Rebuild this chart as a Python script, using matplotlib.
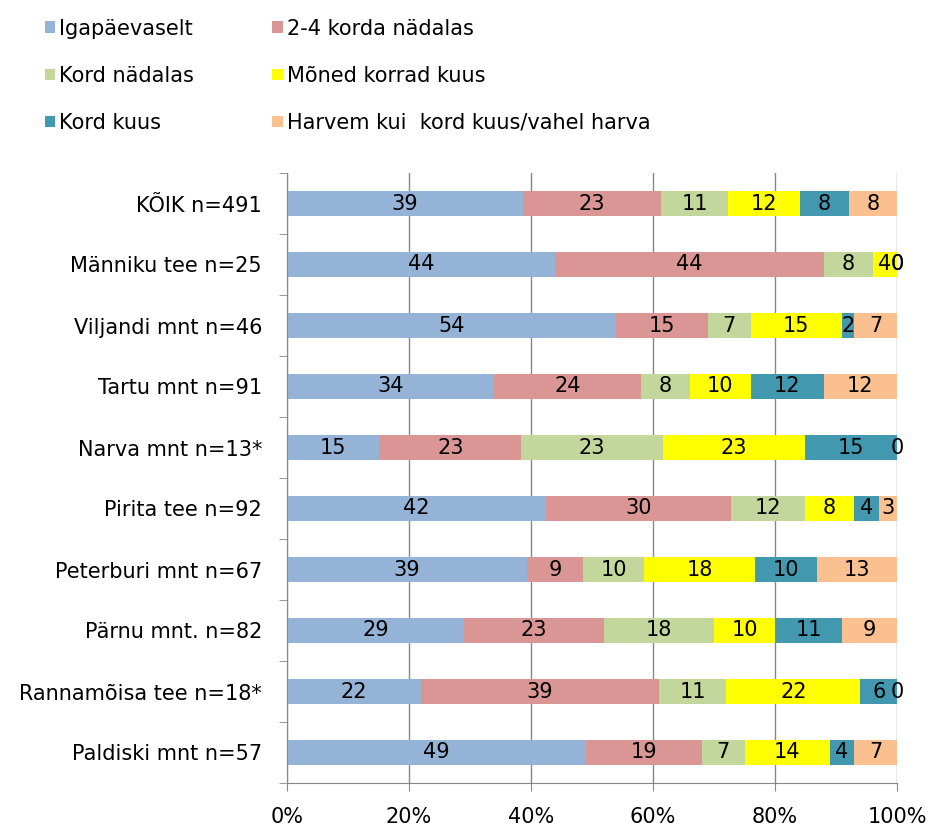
import numpy as np
import matplotlib
matplotlib.use('Agg')
import matplotlib.pyplot as plt
from matplotlib.patches import Patch
from matplotlib.ticker import FixedLocator, PercentFormatter

plt.rcParams['font.family'] = ['DejaVu Sans']

# Data (percent per group)
groups = ["KÕIK n=491", "Männiku tee n=25", "Viljandi mnt n=46", "Tartu mnt n=91",
          "Narva mnt n=13*", "Pirita tee n=92", "Peterburi mnt n=67", "Pärnu mnt. n=82",
          "Rannamõisa tee n=18*", "Paldiski mnt n=57"]
series = ["Igapäevaselt", "2-4 korda nädalas", "Kord nädalas", "Mõned korrad kuus",
          "Kord kuus", "Harvem kui  kord kuus/vahel harva"]
igapaevaselt = [39, 44, 54, 34, 15, 42, 39, 29, 22, 49]
korda_2_4 = [23, 44, 15, 24, 23, 30, 9, 23, 39, 19]
kord_nadalas = [11, 8, 7, 8, 23, 12, 10, 18, 11, 7]
moned_korrad = [12, 4, 15, 10, 23, 8, 18, 10, 22, 14]
kord_kuus = [8, 0, 2, 12, 15, 4, 10, 11, 6, 4]
harvem = [8, 0, 7, 12, 0, 3, 13, 9, 0, 7]
colors = ["#95B3D7", "#D99694", "#C3D69B", "#FFFF00", "#4298AF", "#FAC090"]

values = np.array([igapaevaselt, korda_2_4, kord_nadalas, moned_korrad, kord_kuus, harvem], dtype=float)
shares = values / values.sum(axis=0) * 100  # 100% stacked

fig = plt.figure(figsize=(9.31, 8.27), dpi=100)
ax = fig.add_axes([287 / 931, 1 - 783 / 827, 610 / 931, 610 / 827])

y = np.arange(len(groups))
left = np.zeros(len(groups))
for i in range(len(series)):
    ax.barh(y, shares[i], left=left, height=0.4, color=colors[i], zorder=2)
    for j in range(len(groups)):
        ax.text(left[j] + shares[i][j] / 2, y[j], f"{int(values[i][j])}",
                ha='center', va='center', fontsize=15, color='black', zorder=3)
    left += shares[i]

ax.set_xlim(0, 100)
ax.set_ylim(len(groups) - 0.5, -0.5)
ax.set_yticks(y)
ax.set_yticklabels(groups, fontsize=15)
ax.yaxis.set_minor_locator(FixedLocator(np.arange(-0.5, len(groups), 1)))
ax.tick_params(axis='y', which='major', length=0, pad=18)
ax.tick_params(axis='y', which='minor', length=6, color='#868686')
ax.set_xticks(np.arange(0, 101, 20))
ax.xaxis.set_major_formatter(PercentFormatter(decimals=0))
ax.tick_params(axis='x', labelsize=15, length=6, color='#868686', pad=11)
ax.xaxis.grid(True, color='#868686', linewidth=1)
ax.set_axisbelow(True)
for s in ['top', 'right']:
    ax.spines[s].set_visible(False)
for s in ['left', 'bottom']:
    ax.spines[s].set_color('#868686')

handles = [Patch(facecolor=c) for c in colors]
order = [0, 2, 4, 1, 3, 5]
fig.legend([handles[k] for k in order], [series[k] for k in order], ncol=2,
           loc='upper left', bbox_to_anchor=(0.028, 1.0), frameon=False, fontsize=15,
           handlelength=0.5, handleheight=0.5, handletextpad=0.2,
           labelspacing=1.3, columnspacing=3.75)

fig.savefig("out.png", dpi=100)
